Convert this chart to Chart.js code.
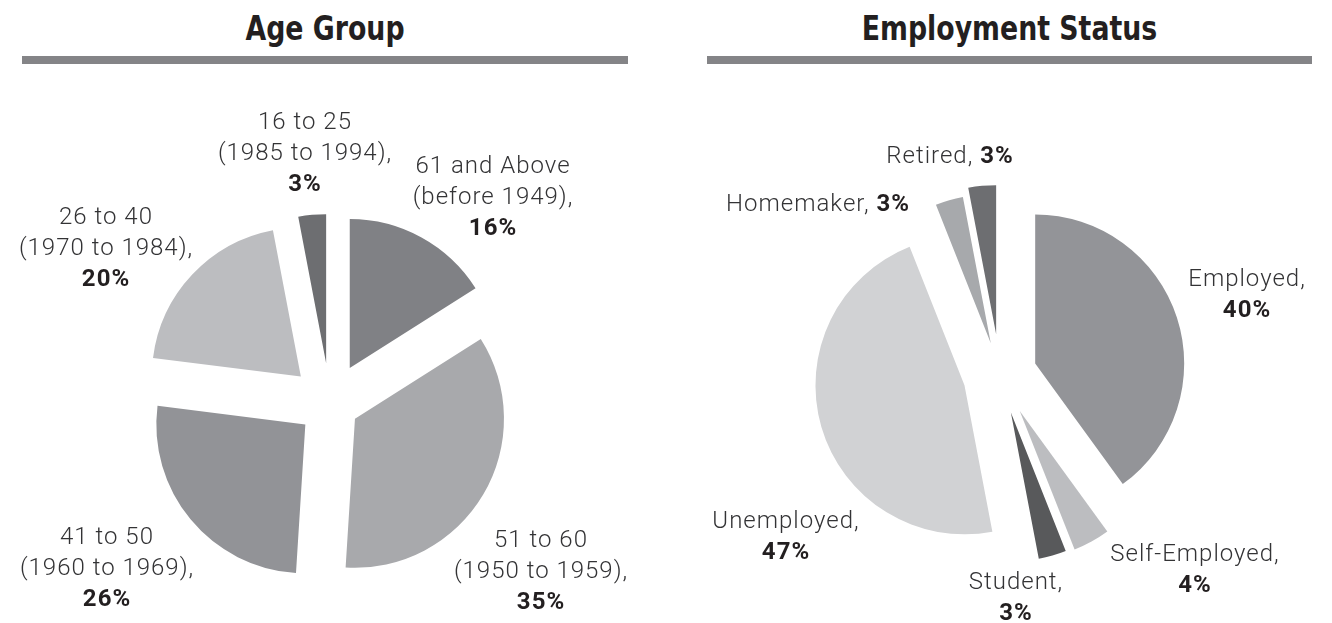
<!DOCTYPE html>
<html>
<head>
<meta charset="utf-8">
<title>Age Group / Employment Status</title>
<script src="https://cdn.jsdelivr.net/npm/chart.js@4.4.1/dist/chart.umd.min.js"></script>
<style>
  html, body { margin: 0; padding: 0; background: #fff; }
  body { width: 1332px; height: 623px; position: relative; overflow: hidden; }
  .title {
    position: absolute; top: 8px; height: 40px; line-height: 40px;
    font-family: 'DejaVu Sans Condensed', 'DejaVu Sans', sans-serif;
    font-weight: bold; font-size: 34px; color: #231f20; text-align: center;
    transform: scaleX(0.875); transform-origin: center;
  }
  .bar { position: absolute; top: 56px; height: 8px; background: #848487; }
  .wrap { position: absolute; top: 0; width: 666px; height: 623px; }
</style>
</head>
<body>
<div class="title" style="left:22px;width:606px">Age Group</div>
<div class="bar" style="left:22px;width:606px"></div>
<div class="title" style="left:707px;width:605px">Employment Status</div>
<div class="bar" style="left:707px;width:605px"></div>

<div class="wrap" style="left:0"><canvas id="chart-age" width="666" height="623"></canvas></div>
<div class="wrap" style="left:666px"><canvas id="chart-job" width="666" height="623"></canvas></div>

<script>
// --- Datos: Grupo de edad ---
const ageLabels = ['61 and Above', '51 to 60', '41 to 50', '26 to 40', '16 to 25'];
const ageYears = ['(before 1949),', '(1950 to 1959),', '(1960 to 1969),', '(1970 to 1984),', '(1985 to 1994),'];
const agePercent = [16, 35, 26, 20, 3];

// --- Datos: Situación laboral ---
const jobLabels = ['Employed', 'Self-Employed', 'Student', 'Unemployed', 'Homemaker', 'Retired'];
const jobPercent = [40, 4, 3, 47, 3, 3];

// --- Estilos ---
const ageColors = ['#808185', '#a8a9ac', '#929397', '#bcbdc0', '#6d6e71'];
const ageExplode = [41, 29, 32, 40, 41];          // desplazamiento de cada porción (px)
const ageLabelPos = [[163, -237], [211, 137], [-223, 134], [-224, -186], [-25, -281]];

const jobColors = ['#939498', '#bcbdc0', '#58595b', '#d1d2d4', '#a7a9ac', '#6d6e71'];
const jobExplode = [37, 41, 39, 37, 33, 41];
const jobLabelPos = [[247, -95], [195, 180], [16, 208], [-214, 147], [-182, -170], [-50, -218]];
const jobOneLine = [false, false, false, false, true, true];

const LABEL_FONT = "Roboto, 'Open Sans', sans-serif";
const LINE_H = 31;

// Separa cada porción del centro a lo largo de su bisectriz
const explodePlugin = {
  id: 'explode',
  afterDatasetUpdate(chart, args) {
    const amounts = chart.options.plugins.explode.amounts;
    args.meta.data.forEach((arc, i) => {
      const mid = (arc.startAngle + arc.endAngle) / 2;
      arc.x += Math.cos(mid) * amounts[i];
      arc.y += Math.sin(mid) * amounts[i];
    });
  }
};

function drawParts(ctx, parts, x, y) {
  let total = 0;
  parts.forEach(p => {
    ctx.font = (p.bold ? 'bold ' : '300 ') + '24px ' + LABEL_FONT;
    p.w = ctx.measureText(p.text).width;
    total += p.w;
  });
  let cx = x - total / 2;
  parts.forEach(p => {
    ctx.font = (p.bold ? 'bold ' : '300 ') + '24px ' + LABEL_FONT;
    ctx.fillStyle = p.bold ? '#231f20' : '#333335';
    ctx.fillText(p.text, cx, y);
    cx += p.w;
  });
}

// Etiquetas de texto alrededor del pastel
const labelPlugin = {
  id: 'sliceLabels',
  afterDraw(chart) {
    const { ctx, chartArea } = chart;
    const opts = chart.options.plugins.sliceLabels;
    const cx = (chartArea.left + chartArea.right) / 2;
    const cy = (chartArea.top + chartArea.bottom) / 2;
    ctx.save();
    ctx.textAlign = 'left';
    ctx.textBaseline = 'middle';
    if ('letterSpacing' in ctx) ctx.letterSpacing = '1px';
    opts.lines.forEach((lines, i) => {
      const [dx, dy] = opts.pos[i];
      lines.forEach((parts, k) => drawParts(ctx, parts, cx + dx, cy + dy + k * LINE_H));
    });
    ctx.restore();
  }
};

function pieConfig(labels, values, colors, explode, padding, lines, pos) {
  return {
    type: 'pie',
    data: {
      labels,
      datasets: [{
        data: values,
        backgroundColor: colors,
        borderWidth: 0
      }]
    },
    options: {
      responsive: false,
      animation: false,
      events: [],
      radius: 149,
      layout: { padding },
      plugins: {
        legend: { display: false },
        tooltip: { enabled: false },
        explode: { amounts: explode },
        sliceLabels: { lines, pos }
      }
    },
    plugins: [explodePlugin, labelPlugin]
  };
}

const ageLines = ageLabels.map((l, i) => [
  [{ text: l }],
  [{ text: ageYears[i] }],
  [{ text: agePercent[i] + '%', bold: true }]
]);

const jobLines = jobLabels.map((l, i) => jobOneLine[i]
  ? [[{ text: l + ', ' }, { text: jobPercent[i] + '%', bold: true }]]
  : [[{ text: l + ',' }], [{ text: jobPercent[i] + '%', bold: true }]]
);

new Chart(document.getElementById('chart-age'),
  pieConfig(ageLabels, agePercent, ageColors, ageExplode,
    { left: 0, right: 6, top: 185, bottom: 0 }, ageLines, ageLabelPos));

new Chart(document.getElementById('chart-job'),
  pieConfig(jobLabels, jobPercent, jobColors, jobExplode,
    { left: 2, right: 0, top: 127, bottom: 0 }, jobLines, jobLabelPos));
</script>
</body>
</html>
